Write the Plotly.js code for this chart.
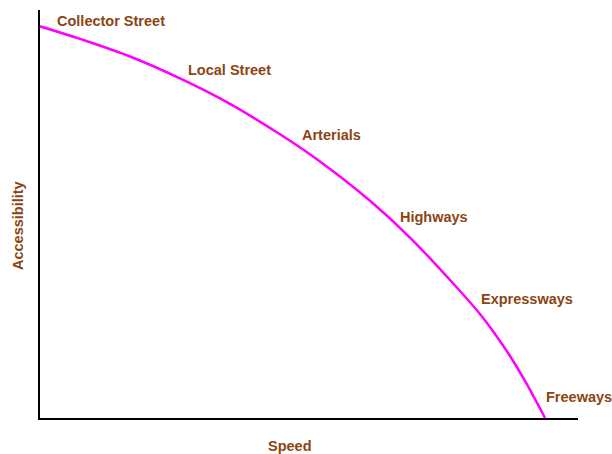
<!DOCTYPE html>
<html>
<head>
<meta charset="utf-8">
<script src="https://cdn.plot.ly/plotly-3.0.1.min.js"></script>
<style>html,body{margin:0;padding:0;background:#fff;}#chart{width:612px;height:454px;}</style>
</head>
<body>
<div id="chart"></div>
<script>
// Speed (x) vs Accessibility (y)
var speed = [0, 7.43, 16.73, 26.02, 35.32, 44.61, 52.04, 61.34, 68.77, 76.21, 81.78, 84.57, 87.36, 90.15, 93.87];
var accessibility = [96.0, 92.92, 88.60, 83.24, 77.01, 69.53, 62.87, 53.24, 44.22, 33.82, 25.49, 20.59, 15.20, 9.07, 0];

var roadLabels = ["Collector Street", "Local Street", "Arterials", "Highways", "Expressways", "Freeways"];
var xTitle = "Speed";
var yTitle = "Accessibility";

var labelPos = [[0.0279, 0.973], [0.2714, 0.853], [0.4833, 0.694], [0.6654, 0.493], [0.8160, 0.292], [0.9368, 0.0515]];
var brown = "#8B4513";
var font = {family: "Liberation Sans, Arial, sans-serif", size: 14.5, color: brown, weight: "bold"};

var annotations = roadLabels.map(function (t, i) {
  return {text: "<b>" + t + "</b>", xref: "paper", yref: "paper", x: labelPos[i][0], y: labelPos[i][1],
          xanchor: "left", yanchor: "middle", showarrow: false, font: font};
});
annotations.push({text: "<b>" + xTitle + "</b>", xref: "paper", yref: "paper", x: 0.465, y: -0.0686,
  xanchor: "center", yanchor: "middle", showarrow: false, font: font});
annotations.push({text: "<b>" + yTitle + "</b>", xref: "paper", yref: "paper", x: -0.0409, y: 0.473,
  xanchor: "center", yanchor: "middle", showarrow: false, textangle: -90, font: font});

var trace = {x: speed, y: accessibility, type: "scatter", mode: "lines",
  line: {color: "#FF00FF", width: 2.5, shape: "spline", smoothing: 1}, hoverinfo: "none", cliponaxis: false};

var layout = {
  width: 612, height: 454,
  margin: {l: 40, r: 34, t: 10, b: 36},
  paper_bgcolor: "#fff", plot_bgcolor: "#fff",
  showlegend: false,
  xaxis: {range: [0, 100], showline: true, linecolor: "#000", linewidth: 2, showgrid: false, zeroline: false,
          showticklabels: false, ticks: ""},
  yaxis: {range: [0, 100], showline: true, linecolor: "#000", linewidth: 2, showgrid: false, zeroline: false,
          showticklabels: false, ticks: ""},
  annotations: annotations
};
Plotly.newPlot("chart", [trace], layout, {displayModeBar: false, staticPlot: true});
</script>
</body>
</html>
